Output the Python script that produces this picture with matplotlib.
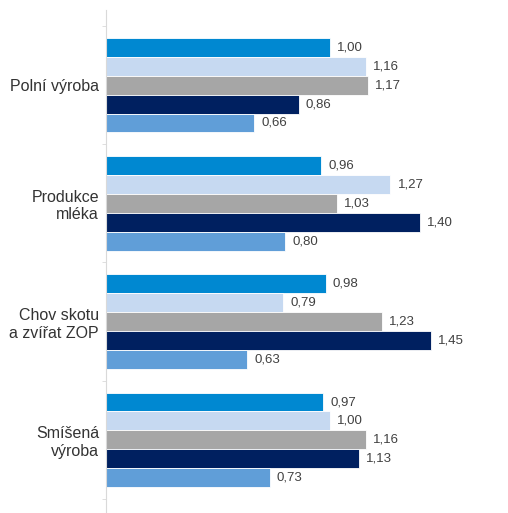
import matplotlib.pyplot as plt
import numpy as np

plt.rcParams['font.family'] = ['Liberation Sans', 'DejaVu Sans']

# data
categories = ['Polní výroba', 'Produkce\nmléka', 'Chov skotu\na zvířat ZOP', 'Smíšená\nvýroba']
s1 = [1.00, 0.96, 0.98, 0.97]
s2 = [1.16, 1.27, 0.79, 1.00]
s3 = [1.17, 1.03, 1.23, 1.16]
s4 = [0.86, 1.40, 1.45, 1.13]
s5 = [0.66, 0.80, 0.63, 0.73]
series = [s1, s2, s3, s4, s5]
colors = ['#0088D1', '#C6D9F1', '#A6A6A6', '#002060', '#609ED8']

fig = plt.figure(figsize=(5.08, 5.13), dpi=100)
# osa od x=106 px doprava, y=10 px dolu
ax = fig.add_axes([106/508, 0, 1 - 106/508, 503/513])

y = np.arange(len(categories))
h = 0.16
for j, (vals, c) in enumerate(zip(series, colors)):
    pos = y + (j - 2) * h
    ax.barh(pos, vals, height=h, color=c, edgecolor='white', linewidth=0.6)
    for p, v in zip(pos, vals):
        ax.text(v + 0.032, p, ('%.2f' % v).replace('.', ','), va='center', ha='left',
                fontsize=9.5, color='#404040')

ax.set_xlim(0, 402/224)
ax.set_ylim(3.5 + 14/118.3, -0.5 - 16/118.3)
ax.set_xticks([])
ax.set_yticks(y)
ax.set_yticklabels(categories, fontsize=11.5, color='#333333')
ax.set_yticks(np.arange(-0.5, len(categories)), minor=True)
ax.tick_params(axis='y', which='major', length=0, pad=5)
ax.tick_params(axis='y', which='minor', length=3, color='#D9D9D9')
for s in ['top', 'right', 'bottom']:
    ax.spines[s].set_visible(False)
ax.spines['left'].set_color('#D9D9D9')

fig.savefig('out.png', dpi=100)
